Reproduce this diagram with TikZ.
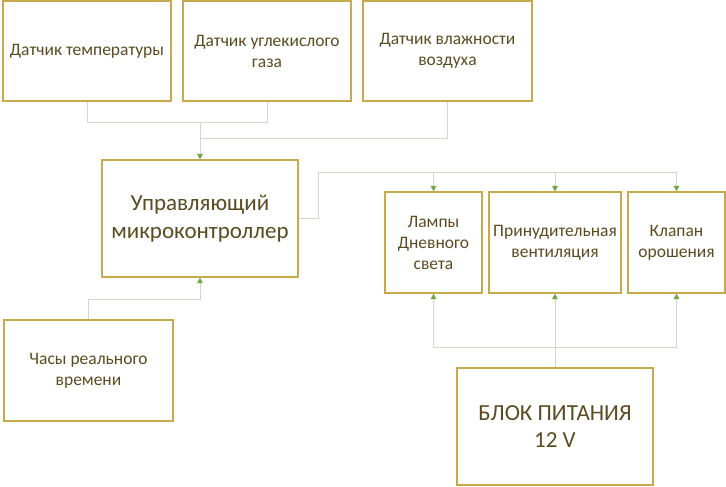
\documentclass[tikz,border=0pt]{standalone}
\usepackage{fontspec}
\setmainfont{Carlito}
\usetikzlibrary{arrows.meta}
\definecolor{boxc}{HTML}{C9A94E}
\definecolor{txtc}{HTML}{5A4C20}
\definecolor{linec}{HTML}{D3D6CC}
\definecolor{arrc}{HTML}{70A844}
\begin{document}
\begin{tikzpicture}[x=1pt,y=-1pt,
  box/.style={draw=boxc, line width=1.2pt, text=txtc, align=center, inner sep=0pt, fill=white},
  small/.style={font=\fontsize{17.5}{21}\selectfont},
  big/.style={font=\fontsize{23}{27.5}\selectfont},
  conn/.style={draw=linec, line width=1pt},
  arr/.style={conn, -{Triangle[length=5.5pt,width=5.5pt,fill=arrc,color=arrc]}}]
\useasboundingbox (0,0) rectangle (726,487);
\fill[white] (0,0) rectangle (726,487);

\node[box, small, minimum width=168pt, minimum height=100pt] (t1) at (87,51) {Датчик температуры};
\node[box, small, minimum width=168pt, minimum height=100pt] (t2) at (267,51) {Датчик углекислого\\газа};
\node[box, small, minimum width=169pt, minimum height=100pt] (t3) at (447.5,51) {Датчик влажности\\воздуха};
\node[box, big, minimum width=196pt, minimum height=117pt] (mc) at (200,218.5) {Управляющий\\микроконтроллер};
\node[box, small, minimum width=97pt, minimum height=101pt] (lamps) at (433.5,242.5) {Лампы\\Дневного\\света};
\node[box, small, minimum width=132pt, minimum height=101pt] (vent) at (555,242.5) {Принудительная\\вентиляция};
\node[box, small, minimum width=97pt, minimum height=101pt] (valve) at (676.5,242.5) {Клапан\\орошения};
\node[box, big, minimum width=196pt, minimum height=117pt] (pw) at (555,426.5) {БЛОК ПИТАНИЯ\\12 V};
\node[box, small, minimum width=169pt, minimum height=101pt] (clock) at (88.5,370.5) {Часы реального\\времени};

\coordinate (j1) at (200,122);
\coordinate (j2) at (200,138);
\coordinate (j3) at (318,172);
\coordinate (j4) at (555,347);
\coordinate (j5) at (200,299);

\draw[conn] (t1.south) -- (t1.south |- j1) -- (t2.south |- j1) -- (t2.south);
\draw[conn] (t3.south) |- (j2);
\draw[arr] (j1) -- (mc.north);

\draw[conn] (mc.east) -| (j3) -- (valve.north |- j3);
\draw[arr] (lamps.north |- j3) -- (lamps.north);
\draw[arr] (vent.north |- j3) -- (vent.north);
\draw[arr] (valve.north |- j3) -- (valve.north);

\draw[arr] (pw.north) -- (vent.south);
\draw[arr] (j4) -| (lamps.south);
\draw[arr] (j4) -| (valve.south);

\draw[arr] (clock.north) |- (j5) -- (mc.south);
\end{tikzpicture}
\end{document}
